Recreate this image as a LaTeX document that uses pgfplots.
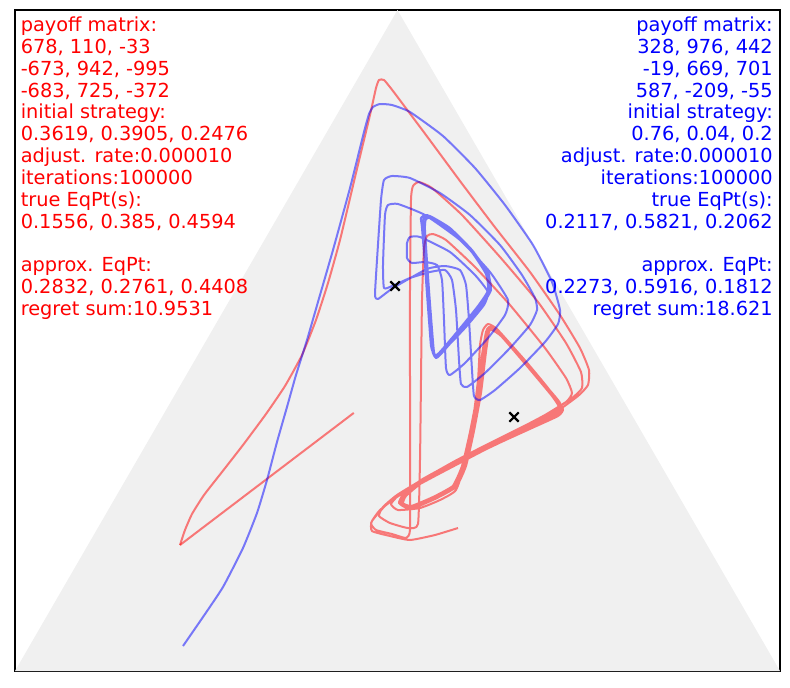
\documentclass[border=0pt]{standalone}
\usepackage{pgfplots}
\pgfplotsset{compat=1.18}
\usepackage{fontspec}
\setmainfont{DejaVu Sans}

\definecolor{simplexgray}{RGB}{240,240,240}

% coordinates are in picture pixels of the ternary plot (y downward)
\begin{document}
\begin{tikzpicture}
\useasboundingbox (-11.25pt,-12pt) rectangle (581.25pt,503.25pt);
\begin{axis}[
    at={(0,0)}, anchor=south west,
    width=573.75pt, height=495.75pt, scale only axis,
    xmin=15, xmax=780, ymin=10, ymax=671, y dir=reverse,
    ticks=none,
    axis line style={black, line width=0.8pt},
    traj/.style={line width=1.5pt, draw opacity=0.5, smooth, tension=0.3, line join=round},
]
% simplex
\addplot[draw=none, fill=simplexgray] coordinates {(15,671) (780,671) (397.5,10)} -- cycle;

% red player trajectory
\addplot[line width=1.5pt, draw opacity=0.5, red] coordinates {(353.8,412.9) (180,545)};
\addplot[traj, red] coordinates {
(180,545) (185,530) (192,514) (204,495) (222,472) (243,445) (266,414)
(285,386) (302,355) (316,320) (328,283) (340,240) (356,173) (370,115) (376,88) (379,80)
(384,80) (393,91) (426,135) (460,181) (494,226) (530,272) (560,315) (580,348) (589,370)
(588,385) (578,396) (553,414) (515,434) (475,455) (435,476) (400,495) (380,510) (371,523)
(376,530) (392,534) (406,538) (410,530) (410,470) (410,380) (410,290) (411,200) (413,186)
(419,182) (432,188) (462,215) (500,257) (538,302) (566,343) (581,372) (582,388) (572,398)
(545,415) (505,436) (462,458) (425,478) (397,495) (383,507) (379,516) (390,523) (408,528)
(418,524) (420,460) (421,380) (422,300) (424,248) (427,236) (433,234) (446,240) (475,267)
(510,305) (545,348) (566,378) (572,393) (566,402) (540,418) (500,438) (458,460) (422,480)
(400,494) (391,504) (398,510) (420,508) (440,500) (456,490) (466,460) (473,420) (478,380)
(480,345) (483,330) (488,324)
(497,329) (522,357) (547,387) (560,403) (556,411) (530,424) (494,441) (455,461) (420,481)
(403,495) (399,503) (408,508) (430,499) (452,487) (462,466) (470,432) (477,395) (482,355) (486,332)
(489,327) (498,331) (523,358) (548,388) (559,405) (554,412) (528,425) (492,442) (454,462) (419,482)
(402,496) (400,504) (410,508) (432,498) (453,486) (463,465) (471,431) (478,394) (483,354) (487,331)
(490,328) (499,333) (524,360) (549,390) (561,406) (556,413) (530,426) (495,442) (456,461) (421,480)
(404,494) (401,502) (411,506) (433,497) (454,485) (464,464) (472,430) (479,393) (484,352) (487,330)
(491,329) (500,334) (525,362) (550,392) (562,407) (557,414) (531,427) (496,443) (457,462) (422,481)
(405,495) (402,503) (412,507) (434,498) (455,486) (465,465) (473,430) (480,392) (485,351) (488,331)
(492,330) (501,336) (526,364) (551,394) (563,409) (558,416) (532,428) (497,444) (458,463) (423,482)
(406,496) (403,504) (413,508) (435,499) (456,487) (466,466) (474,431) (481,393) (486,352) (489,332)
(492,329) (502,337) (527,366) (552,396) (560,409) (552,417) (528,429) (495,445) (455,464) (415,484)
(388,503) (372,521) (372,531) (390,536) (410,540) (435,535) (458,528)
};

% blue player trajectory
\addplot[traj, blue] coordinates {
(183,646) (203,617) (223,587) (243,548) (257,513) (267,480) (277,442) (287,407) (296,375)
(307,340) (320,295) (333,250) (350,188) (364,132) (369,114) (373,107) (380,104) (392,105)
(410,112) (443,136) (475,168) (505,205) (533,245) (552,282) (560,310) (558,324) (545,342)
(520,368) (495,390) (480,400) (474,396) (472,370) (469,320) (466,285) (460,270) (445,266)
(427,269) (393,288) (378,299) (375,295) (377,260) (381,200) (384,180) (392,176) (410,178)
(440,193) (470,215) (500,245) (522,275) (535,298) (537,310) (530,325) (510,348) (485,373)
(467,387) (461,384) (459,360) (456,310) (452,280) (445,270) (430,272) (410,278) (392,286)
(384,288) (383,265) (385,215) (388,205) (398,204) (425,215) (460,240) (490,272) (508,300)
(505,315) (488,338) (465,363) (450,375) (446,368) (444,320) (442,280) (437,265) (425,262)
(412,263) (407,258) (407,243) (410,237) (420,237) (450,252) (475,275) (488,292) (484,305)
(465,328) (442,352) (436,356) (432,348) (427,290) (422,228) (421,218) (427,215) (447,226)
(470,248) (488,272) (490,288) (480,305) (460,330) (440,352) (435,356) (431,345) (426,280)
(423,226) (424,217) (430,216) (450,228) (472,250) (487,272) (489,289) (478,306) (457,332)
(438,354) (434,352) (429,290) (425,230) (426,219) (432,218) (451,230) (473,252) (488,274)
(491,290) (481,307) (461,331) (441,354) (436,358) (432,349) (428,292) (424,229) (423,220)
(429,217) (449,229) (471,251) (486,274) (488,290) (479,306) (459,331) (439,353) (435,355)
(431,346) (427,291) (424,232) (425,221)
};

% true equilibrium points
\addplot[only marks, mark=x, mark size=5pt, black, line width=1.6pt] coordinates {(395,286) (514,417)};

\node[anchor=north west, inner sep=0pt, align=left, text=red,
      font=\fontsize{14.5}{16.4}\selectfont] at (axis cs:20.5,16.5) {%
payoff matrix:\\678, 110, -33\\-673, 942, -995\\-683, 725, -372\\initial strategy:\\%
0.3619, 0.3905, 0.2476\\adjust. rate:0.000010\\iterations:100000\\true EqPt(s):\\%
0.1556, 0.385, 0.4594\\[16.4pt]approx. EqPt:\\0.2832, 0.2761, 0.4408\\regret sum:10.9531};

\node[anchor=north east, inner sep=0pt, align=right, text=blue,
      font=\fontsize{14.5}{16.4}\selectfont] at (axis cs:773,16.5) {%
payoff matrix:\\328, 976, 442\\-19, 669, 701\\587, -209, -55\\initial strategy:\\%
0.76, 0.04, 0.2\\adjust. rate:0.000010\\iterations:100000\\true EqPt(s):\\%
0.2117, 0.5821, 0.2062\\[16.4pt]approx. EqPt:\\0.2273, 0.5916, 0.1812\\regret sum:18.621};
\end{axis}
\end{tikzpicture}
\end{document}
